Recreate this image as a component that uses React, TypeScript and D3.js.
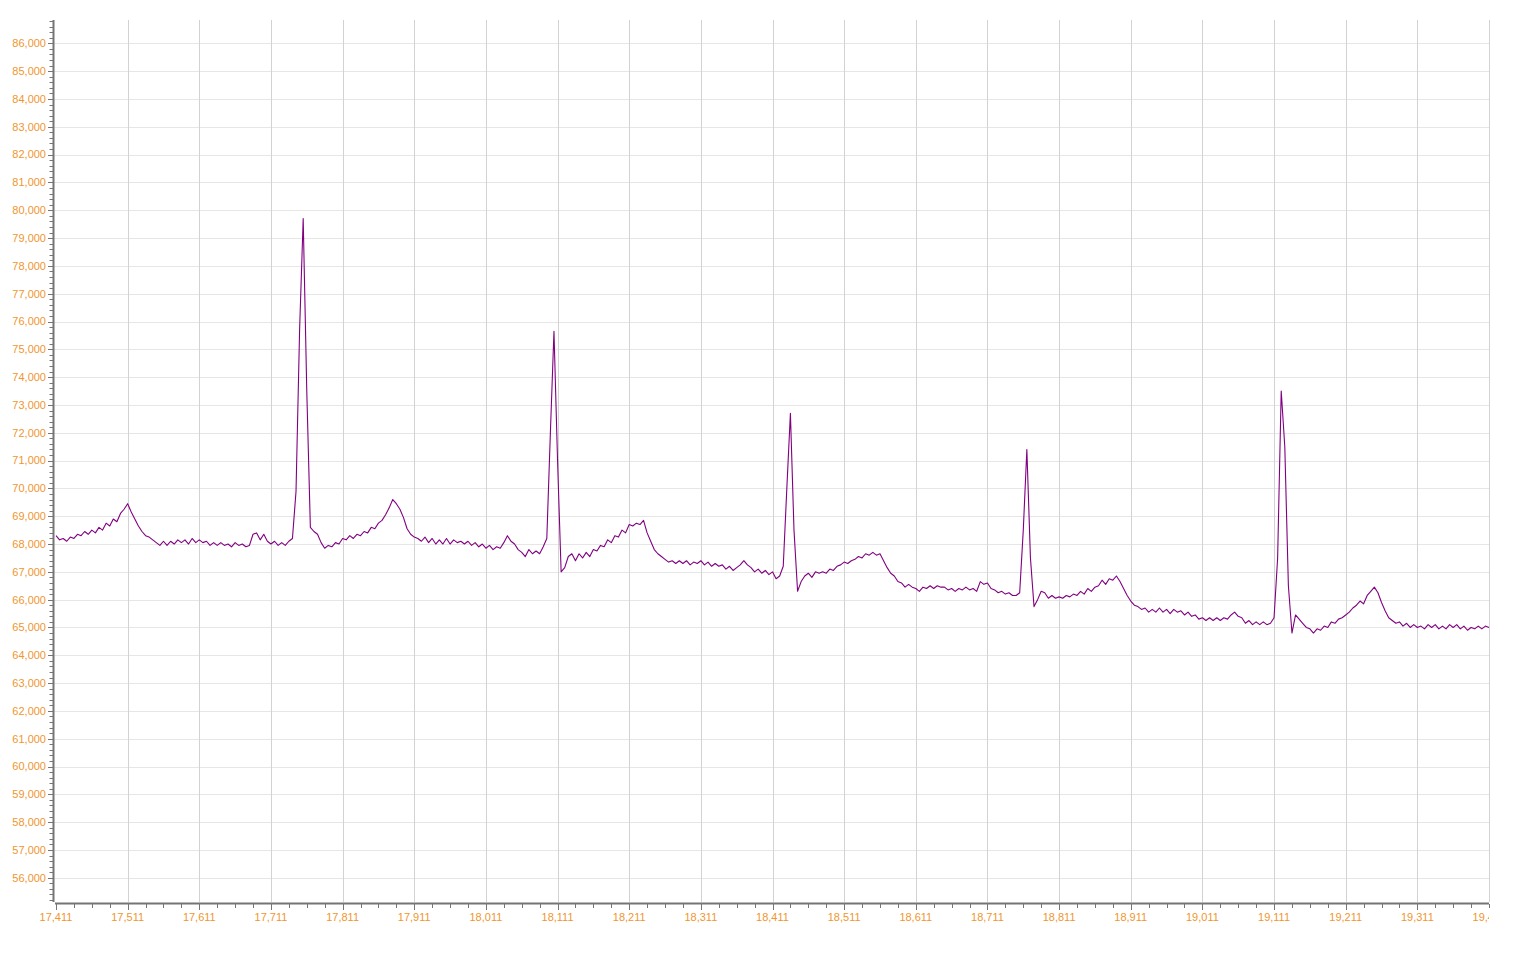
import React from "react";
import * as d3 from "d3";

// Sampled signal: one value every SAMPLE_STEP units starting at START_TIME
const START_TIME = 17411;
const SAMPLE_STEP = 5;
const ecgValues: number[] = [
  68300, 68150, 68200, 68100, 68250, 68200, 68350, 68300, 68450, 68350,
  68500, 68400, 68600, 68500, 68750, 68650, 68900, 68800, 69100, 69250,
  69450, 69150, 68900, 68650, 68450, 68300, 68250, 68150, 68050, 67950,
  68100, 67950, 68100, 68000, 68150, 68050, 68150, 68000, 68200, 68050,
  68150, 68050, 68100, 67950, 68050, 67950, 68050, 67950, 68000, 67900,
  68050, 67950, 68000, 67900, 67950, 68350, 68400, 68150, 68350, 68100,
  68000, 68100, 67950, 68050, 67950, 68100, 68200, 69900, 75700, 79700,
  73500, 68600, 68450, 68350, 68050, 67850, 67950, 67900, 68050, 68000,
  68200, 68150, 68300, 68200, 68350, 68300, 68450, 68400, 68600, 68550,
  68750, 68850, 69050, 69300, 69600, 69450, 69250, 68950, 68550, 68350,
  68250, 68200, 68100, 68250, 68050, 68200, 68000, 68150, 68000, 68200,
  68000, 68150, 68050, 68100, 68000, 68100, 67950, 68050, 67900, 68000,
  67850, 67950, 67800, 67900, 67850, 68050, 68300, 68100, 68000, 67800,
  67700, 67550, 67800, 67650, 67750, 67650, 67900, 68200, 72000, 75650,
  71000, 67000, 67150, 67550, 67650, 67400, 67650, 67500, 67700, 67550,
  67800, 67750, 67950, 67900, 68150, 68050, 68300, 68250, 68500, 68400,
  68700, 68650, 68750, 68700, 68850, 68400, 68100, 67800, 67650, 67550,
  67450, 67350, 67400, 67300, 67400, 67300, 67400, 67250, 67350, 67300,
  67400, 67250, 67350, 67200, 67300, 67200, 67250, 67100, 67200, 67050,
  67150, 67250, 67400, 67250, 67150, 67000, 67100, 66950, 67050, 66900,
  67000, 66750, 66850, 67200, 70000, 72700, 68500, 66300, 66650, 66850,
  66950, 66800, 67000, 66950, 67000, 66950, 67100, 67050, 67200, 67250,
  67350, 67300, 67400, 67450, 67550, 67500, 67650, 67600, 67700, 67600,
  67650, 67400, 67150, 66950, 66850, 66650, 66600, 66450, 66550, 66450,
  66400, 66300, 66450, 66400, 66500, 66400, 66500, 66450, 66450, 66350,
  66400, 66300, 66400, 66350, 66450, 66350, 66400, 66300, 66650, 66550,
  66600, 66400, 66350, 66250, 66300, 66200, 66250, 66150, 66150, 66250,
  68500, 71400, 67500, 65750, 66000, 66300, 66250, 66050, 66150, 66050,
  66100, 66050, 66150, 66100, 66200, 66150, 66300, 66200, 66400, 66300,
  66450, 66500, 66700, 66550, 66750, 66700, 66850, 66650, 66400, 66150,
  65950, 65800, 65750, 65650, 65700, 65550, 65650, 65550, 65700, 65550,
  65650, 65500, 65650, 65550, 65600, 65450, 65550, 65400, 65450, 65300,
  65350, 65250, 65350, 65250, 65350, 65250, 65350, 65300, 65450, 65550,
  65400, 65350, 65150, 65250, 65100, 65200, 65100, 65200, 65100, 65150,
  65350, 67500, 73500, 71500, 66500, 64800, 65450, 65300, 65150, 65000,
  64950, 64800, 64950, 64900, 65050, 65000, 65200, 65150, 65300, 65350,
  65450, 65550, 65700, 65800, 65950, 65850, 66150, 66300, 66450, 66250,
  65900, 65600, 65350, 65250, 65150, 65200, 65050, 65150, 65000, 65100,
  65000, 65050, 64950, 65100, 65000, 65100, 64950, 65050, 64950, 65100,
  65000, 65100, 64950, 65050, 64900, 65000, 64950, 65050, 64950, 65050,
  65000,
];

const xTickValues: number[] = [
  17411, 17511, 17611, 17711, 17811, 17911, 18011, 18111, 18211, 18311,
  18411, 18511, 18611, 18711, 18811, 18911, 19011, 19111, 19211, 19311, 19411,
];
const yTickValues: number[] = [
  56000, 57000, 58000, 59000, 60000, 61000, 62000, 63000, 64000, 65000,
  66000, 67000, 68000, 69000, 70000, 71000, 72000, 73000, 74000, 75000,
  76000, 77000, 78000, 79000, 80000, 81000, 82000, 83000, 84000, 85000, 86000,
];
const X_DOMAIN: [number, number] = [17411, 19411];
const Y_DOMAIN: [number, number] = [55130, 86840];
const X_MINOR_STEP = 25;
const Y_MINOR_STEP = 200;

const W = 1516;
const H = 960;
const LEFT = 56;
const RIGHT = 1489;
const TOP = 20;
const BOTTOM = 902;

const fmt = d3.format(",");
const LABEL_COLOR = "#f0962e";
const AXIS_COLOR = "#757575";
const FONT = "'Liberation Sans', Arial, sans-serif";

export default function App() {
  const x = d3.scaleLinear().domain(X_DOMAIN).range([LEFT, RIGHT]);
  const y = d3.scaleLinear().domain(Y_DOMAIN).range([BOTTOM, TOP]);

  const points = ecgValues.map((v, i) => [START_TIME + i * SAMPLE_STEP, v] as [number, number]);
  const line = d3
    .line<[number, number]>()
    .x((d) => x(d[0]))
    .y((d) => y(d[1]));

  const xMinor: number[] = d3.range(X_DOMAIN[0], X_DOMAIN[1] + 0.1, X_MINOR_STEP);
  const yMinor: number[] = d3
    .range(Math.ceil(Y_DOMAIN[0] / Y_MINOR_STEP) * Y_MINOR_STEP, Y_DOMAIN[1], Y_MINOR_STEP);

  return (
    <svg
      width={W}
      height={H}
      style={{ position: "absolute", left: 0, top: 0, background: "#fff" }}
      fontFamily={FONT}
    >
      <defs>
        <clipPath id="plotClip">
          <rect x={0} y={0} width={RIGHT} height={H} />
        </clipPath>
      </defs>
      {/* horizontal grid */}
      {yTickValues.map((v) => (
        <line
          key={"hg" + v}
          x1={54}
          x2={RIGHT}
          y1={Math.round(y(v)) + 0.5}
          y2={Math.round(y(v)) + 0.5}
          stroke="#e6e6e6"
          strokeWidth={1}
        />
      ))}
      {/* vertical grid */}
      {xTickValues.slice(1).map((v) => (
        <line
          key={"vg" + v}
          x1={Math.round(x(v)) + 0.5}
          x2={Math.round(x(v)) + 0.5}
          y1={TOP}
          y2={BOTTOM}
          stroke="#d2d2d2"
          strokeWidth={1}
        />
      ))}
      {/* signal */}
      <path d={line(points) || ""} fill="none" stroke="#800080" strokeWidth={1.1} strokeLinejoin="round" />

      {/* y axis */}
      <line x1={53.5} x2={53.5} y1={TOP} y2={BOTTOM} stroke={AXIS_COLOR} strokeWidth={2} />
      {yMinor.map((v) => (
        <line
          key={"ym" + v}
          x1={49.5}
          x2={53}
          y1={Math.round(y(v)) + 0.5}
          y2={Math.round(y(v)) + 0.5}
          stroke={AXIS_COLOR}
          strokeWidth={1}
        />
      ))}
      {yTickValues.map((v) => (
        <g key={"yt" + v}>
          <line x1={48} x2={53} y1={Math.round(y(v)) + 0.5} y2={Math.round(y(v)) + 0.5} stroke={AXIS_COLOR} strokeWidth={1} />
          <text x={46} y={y(v)} dy="0.35em" textAnchor="end" fontSize={11} fill={LABEL_COLOR}>
            {fmt(v)}
          </text>
        </g>
      ))}

      {/* x axis */}
      <line x1={55} x2={RIGHT} y1={903.5} y2={903.5} stroke={AXIS_COLOR} strokeWidth={2} />
      {xMinor.map((v) => (
        <line
          key={"xm" + v}
          x1={Math.round(x(v)) + 0.5}
          x2={Math.round(x(v)) + 0.5}
          y1={904}
          y2={908}
          stroke={AXIS_COLOR}
          strokeWidth={1}
        />
      ))}
      <g clipPath="url(#plotClip)">
        {xTickValues.map((v) => (
          <g key={"xt" + v}>
            <line x1={Math.round(x(v)) + 0.5} x2={Math.round(x(v)) + 0.5} y1={904} y2={910} stroke={AXIS_COLOR} strokeWidth={1} />
            <text x={x(v)} y={921} textAnchor="middle" fontSize={11} fill={LABEL_COLOR}>
              {fmt(v)}
            </text>
          </g>
        ))}
      </g>
    </svg>
  );
}
